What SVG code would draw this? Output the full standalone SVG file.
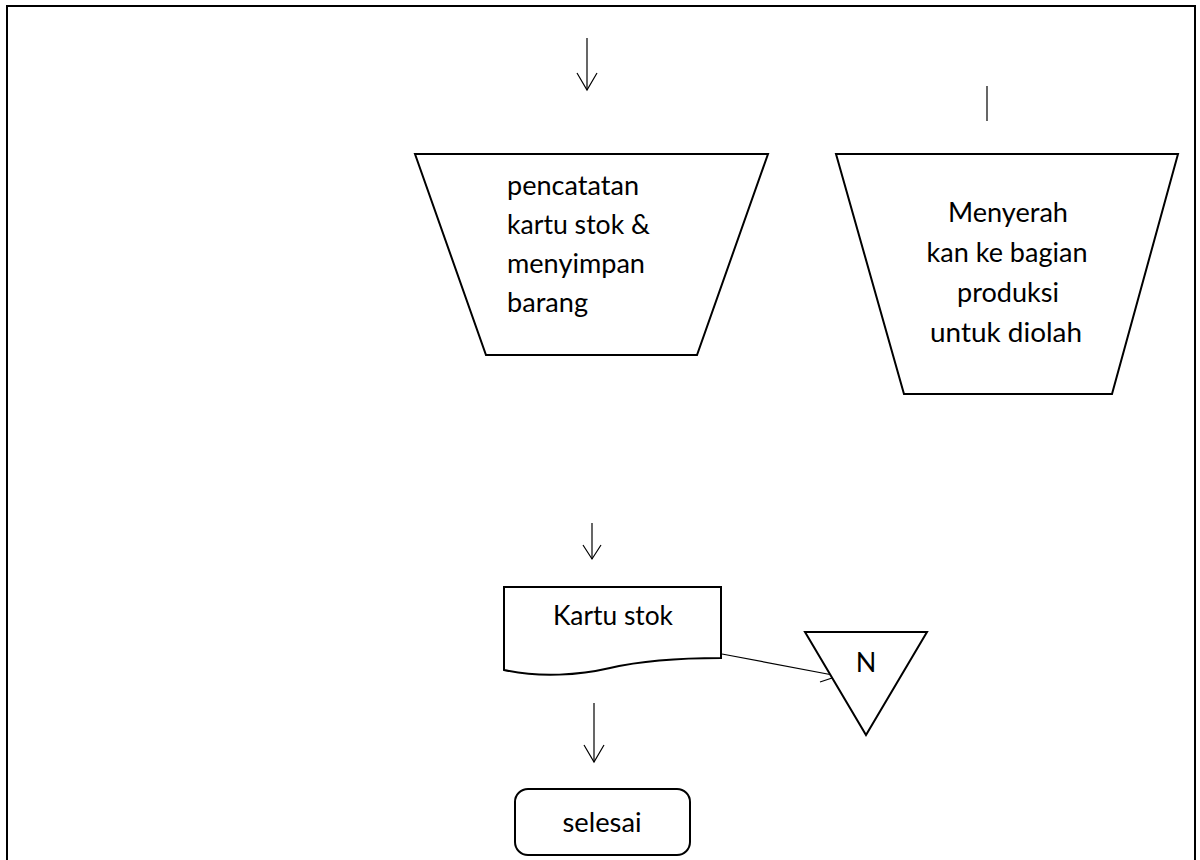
<svg xmlns="http://www.w3.org/2000/svg" width="1200" height="860" viewBox="0 0 1200 860">
  <style>
    .shape { fill: #ffffff; stroke: #000000; stroke-width: 2; stroke-linejoin: miter; }
    .conn { fill: none; stroke: #000000; stroke-width: 1.2; }
    .lbl { font-family: Lato, "Open Sans", "Liberation Sans", sans-serif; font-size: 27px; fill: #000000; }
    .mid { text-anchor: middle; }
  </style>
  <defs>
    <marker id="open" viewBox="0 0 12 12" refX="11" refY="6" markerWidth="20" markerHeight="20" markerUnits="userSpaceOnUse" orient="auto">
      <path d="M1,1 L11,6 L1,11" fill="none" stroke="#000000" stroke-width="1.2"/>
    </marker>
  </defs>

  <rect x="0" y="0" width="1200" height="860" fill="#ffffff"/>
  <!-- page frame -->
  <rect x="7" y="6" width="1188" height="900" fill="none" stroke="#000000" stroke-width="2"/>

  <g id="connectors">
    <line class="conn" x1="587" y1="38" x2="587" y2="90"/>
    <polyline class="conn" points="577,73 587,90 597,73"/>
    <line class="conn" x1="987" y1="86" x2="987" y2="121"/>
    <line class="conn" x1="592" y1="523" x2="592" y2="559"/>
    <polyline class="conn" points="583,545 592,559 601,545"/>
    <line class="conn" x1="594" y1="703" x2="594" y2="762"/>
    <polyline class="conn" points="584,745 594,762 604,745"/>
    <line class="conn" x1="722" y1="654" x2="838" y2="676"/>
    <polyline class="conn" points="827,665 838,676 820,682"/>
  </g>

  <g id="node-pencatatan">
    <polygon class="shape" points="415,154 768,154 697,355 486,355"/>
    <text class="lbl" x="507" y="195" textLength="132" lengthAdjust="spacingAndGlyphs">pencatatan</text>
    <text class="lbl" x="507" y="234" textLength="143" lengthAdjust="spacingAndGlyphs">kartu stok &amp;</text>
    <text class="lbl" x="507" y="273" textLength="138" lengthAdjust="spacingAndGlyphs">menyimpan</text>
    <text class="lbl" x="507" y="312" textLength="81" lengthAdjust="spacingAndGlyphs">barang</text>
  </g>

  <g id="node-menyerahkan">
    <polygon class="shape" points="836,154 1178,154 1112,394 904,394"/>
    <text class="lbl mid" x="1008" y="222" textLength="120" lengthAdjust="spacingAndGlyphs">Menyerah</text>
    <text class="lbl mid" x="1007" y="262" textLength="161" lengthAdjust="spacingAndGlyphs">kan ke bagian</text>
    <text class="lbl mid" x="1008" y="302" textLength="102" lengthAdjust="spacingAndGlyphs">produksi</text>
    <text class="lbl mid" x="1006" y="342" textLength="152" lengthAdjust="spacingAndGlyphs">untuk diolah</text>
  </g>

  <g id="node-kartu-stok">
    <path class="shape" d="M504,587 L721,587 L721,658 C680,658 640,661 610,668 C580,675 540,678 504,670 Z"/>
    <text class="lbl mid" x="613" y="625" textLength="120" lengthAdjust="spacingAndGlyphs">Kartu stok</text>
  </g>

  <g id="node-n">
    <polygon class="shape" points="805,632 927,632 866,735"/>
    <text class="lbl mid" x="866" y="672">N</text>
  </g>

  <g id="node-selesai">
    <rect class="shape" x="515" y="789" width="175" height="66" rx="13" ry="13"/>
    <text class="lbl mid" x="602" y="832" textLength="79" lengthAdjust="spacingAndGlyphs">selesai</text>
  </g>
</svg>
